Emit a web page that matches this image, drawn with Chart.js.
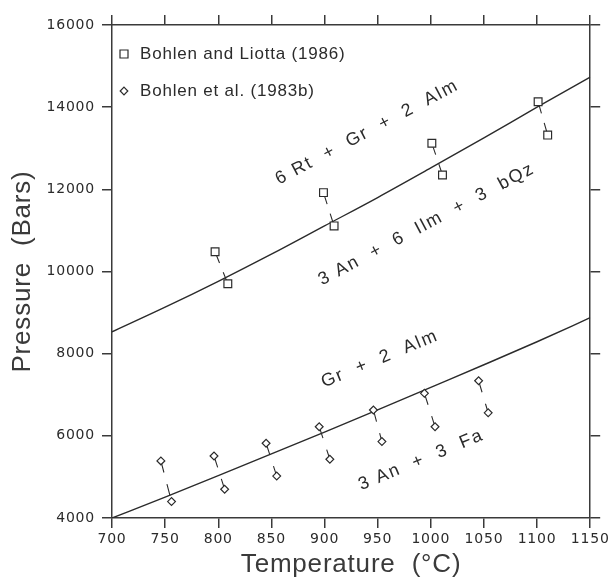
<!DOCTYPE html>
<html><head><meta charset="utf-8">
<script src="https://cdn.jsdelivr.net/npm/chart.js@4/dist/chart.umd.min.js"></script>
<style>html,body{margin:0;padding:0;background:#fff}#wrap{width:611px;height:577px}</style>
</head><body><div id="wrap"><canvas id="c" width="611" height="577"></canvas></div>
<script>
// ---- data ----
const curveTemps  = [700, 750, 800, 850, 900, 950, 1000, 1050, 1100, 1150];
const upperCurveP = [8530, 9130, 9760, 10420, 11110, 11800, 12520, 13250, 14000, 14730];
const lowerCurveP = [4000, 4510, 5030, 5560, 6090, 6630, 7180, 7730, 8290, 8875];

// Bohlen and Liotta (1986) – squares (start / end of each bracket)
const liottaUpperT = [797, 899, 1001, 1101];
const liottaUpperP = [10480, 11920, 13120, 14130];
const liottaLowerT = [809, 909, 1011, 1110];
const liottaLowerP = [9700, 11110, 12350, 13320];

// Bohlen et al. (1983b) – diamonds
const bohlenUpperT = [746, 796, 845, 895, 946, 994, 1045];
const bohlenUpperP = [5390, 5510, 5820, 6220, 6630, 7035, 7340];
const bohlenLowerT = [756, 806, 855, 905, 954, 1004, 1054];
const bohlenLowerP = [4400, 4700, 5020, 5430, 5860, 6220, 6560];

const xTickValues = [700, 750, 800, 850, 900, 950, 1000, 1050, 1100, 1150];
const yTickValues = [4000, 6000, 8000, 10000, 12000, 14000, 16000];

const legendLabels = ['Bohlen and Liotta (1986)', 'Bohlen et al. (1983b)'];
const reactionLabels = ['6 Rt  +  Gr  +  2  Alm', '3 An  +  6  Ilm  +  3  bQz', 'Gr  +  2  Alm', '3 An  +  3  Fa'];
const reactionLabelT = [940, 996, 952, 991];
const reactionLabelP = [13390, 11150, 7870, 5410];
const reactionLabelAngle = [-28, -28, -22.5, -22.5];

// ---- styles ----
const INK = '#2b2b2b';
const AXIS = '#3a3a3a';

const datasets = [];
liottaUpperT.forEach((t, i) => {
  datasets.push({
    label: legendLabels[0],
    data: [{x: t, y: liottaUpperP[i]}, {x: liottaLowerT[i], y: liottaLowerP[i]}],
    showLine: true, borderColor: INK, borderWidth: 1.1, borderDash: [12, 10],
    pointStyle: 'rect', pointRadius: 5.5, pointBorderWidth: 1.2,
    pointBackgroundColor: '#ffffff', pointBorderColor: INK
  });
});
bohlenUpperT.forEach((t, i) => {
  datasets.push({
    label: legendLabels[1],
    data: [{x: t, y: bohlenUpperP[i]}, {x: bohlenLowerT[i], y: bohlenLowerP[i]}],
    showLine: true, borderColor: INK, borderWidth: 1.1, borderDash: [12, 12],
    pointStyle: 'rectRot', pointRadius: 3.9, pointBorderWidth: 1.2,
    pointBackgroundColor: '#ffffff', pointBorderColor: INK
  });
});
datasets.push({
  label: 'upper reaction',
  data: curveTemps.map((t, i) => ({x: t, y: upperCurveP[i]})),
  showLine: true, borderColor: INK, borderWidth: 1.4, pointRadius: 0,
  tension: 0.4, cubicInterpolationMode: 'monotone'
});
datasets.push({
  label: 'lower reaction',
  data: curveTemps.map((t, i) => ({x: t, y: lowerCurveP[i]})),
  showLine: true, borderColor: INK, borderWidth: 1.4, pointRadius: 0,
  tension: 0.4, cubicInterpolationMode: 'monotone'
});

const gridOpts = {drawOnChartArea: false, drawTicks: true, tickLength: 10, color: AXIS, lineWidth: 1.5};
const borderOpts = {display: true, color: AXIS, width: 1.5};
const tickFont = {family: 'DejaVu Sans', size: 14};
const titleFont = {family: 'Liberation Sans', size: 26};
const plainLabel = v => String(v);

const spacingPlugin = {
  id: 'spacing',
  beforeDraw(chart) { chart.ctx.letterSpacing = '0.8px'; }
};

const annotPlugin = {
  id: 'annot',
  afterDatasetsDraw(chart) {
    const {ctx, scales: {x, y}, chartArea} = chart;
    ctx.save();
    ctx.fillStyle = INK;
    ctx.font = '18px "Liberation Sans"';
    ctx.letterSpacing = '1.8px';
    ctx.textAlign = 'center';
    ctx.textBaseline = 'middle';
    reactionLabels.forEach((txt, i) => {
      ctx.save();
      ctx.translate(x.getPixelForValue(reactionLabelT[i]), y.getPixelForValue(reactionLabelP[i]));
      ctx.rotate(reactionLabelAngle[i] * Math.PI / 180);
      ctx.fillText(txt, 0, 0);
      ctx.restore();
    });
    // legend inside plot
    const lx = chartArea.left + 12;
    const ly1 = chartArea.top + 29;
    const ly2 = chartArea.top + 66;
    ctx.strokeStyle = INK;
    ctx.lineWidth = 1.2;
    ctx.fillStyle = '#fff';
    ctx.beginPath(); ctx.rect(lx - 4, ly1 - 4, 8, 8); ctx.fill(); ctx.stroke();
    ctx.beginPath();
    ctx.moveTo(lx, ly2 - 3.8); ctx.lineTo(lx + 3.8, ly2); ctx.lineTo(lx, ly2 + 3.8); ctx.lineTo(lx - 3.8, ly2); ctx.closePath();
    ctx.fill(); ctx.stroke();
    ctx.fillStyle = INK;
    ctx.font = '17px "Liberation Sans"';
    ctx.letterSpacing = '0.8px';
    ctx.textAlign = 'left';
    ctx.fillText(legendLabels[0], lx + 16, ly1);
    ctx.fillText(legendLabels[1], lx + 16, ly2);
    ctx.restore();
  }
};

new Chart(document.getElementById('c'), {
  type: 'scatter',
  data: {datasets},
  options: {
    responsive: false, animation: false, maintainAspectRatio: false,
    layout: {padding: 0},
    plugins: {legend: {display: false}, tooltip: {enabled: false}},
    scales: {
      x: {
        type: 'linear', position: 'bottom', min: 700, max: 1150,
        afterBuildTicks: s => { s.ticks = xTickValues.map(v => ({value: v})); },
        afterFit: s => { s.height = 59; },
        grid: gridOpts, border: borderOpts,
        ticks: {font: tickFont, color: INK, padding: 3, maxRotation: 0, autoSkip: false, callback: plainLabel},
        title: {display: true, text: 'Temperature  (°C)', font: titleFont, color: '#3a3a3a', padding: {top: 0, bottom: -3}}
      },
      x2: {
        type: 'linear', position: 'top', min: 700, max: 1150,
        afterBuildTicks: s => { s.ticks = xTickValues.map(v => ({value: v})); },
        afterFit: s => { s.height = 25; },
        grid: gridOpts, border: borderOpts,
        ticks: {display: false}
      },
      y: {
        type: 'linear', position: 'left', min: 4000, max: 16000,
        afterBuildTicks: s => { s.ticks = yTickValues.map(v => ({value: v})); },
        afterFit: s => { s.width = 112; },
        grid: gridOpts, border: borderOpts,
        ticks: {font: tickFont, color: INK, padding: 7, callback: plainLabel},
        title: {display: true, text: 'Pressure  (Bars)', font: titleFont, color: '#3a3a3a', padding: {top: 7, bottom: 0}}
      },
      y2: {
        type: 'linear', position: 'right', min: 4000, max: 16000,
        afterBuildTicks: s => { s.ticks = yTickValues.map(v => ({value: v})); },
        afterFit: s => { s.width = 19; },
        grid: gridOpts, border: borderOpts,
        ticks: {display: false}
      }
    }
  },
  plugins: [spacingPlugin, annotPlugin]
});
</script>
</body></html>
